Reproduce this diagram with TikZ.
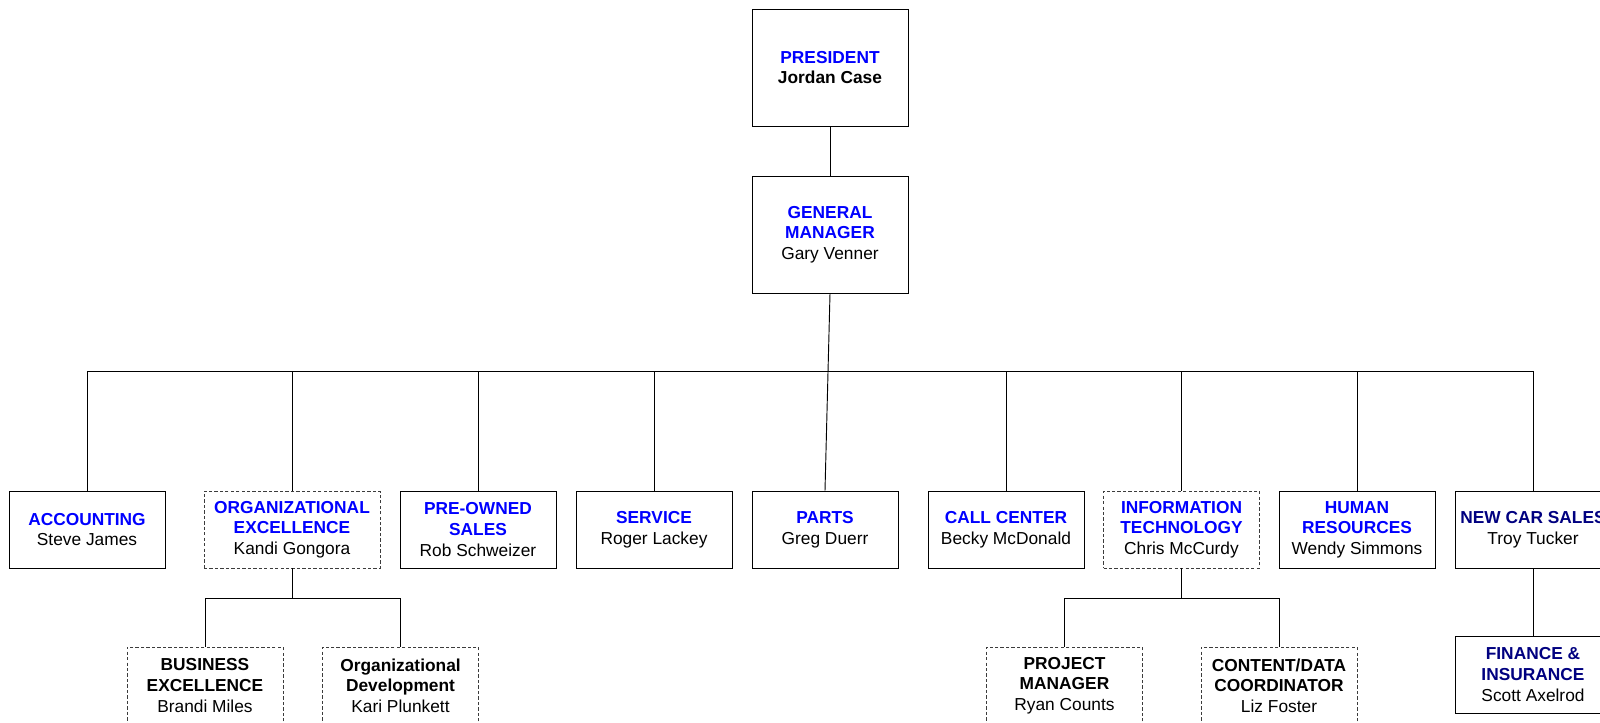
\documentclass[tikz,border=0pt]{standalone}
\usepackage{fontspec}
\setmainfont{Liberation Sans}
\definecolor{titleblue}{RGB}{0,0,255}
\definecolor{titlenavy}{RGB}{0,0,128}
\definecolor{dashgray}{RGB}{60,60,60}
\begin{document}
\begin{tikzpicture}[x=0.75pt,y=-0.75pt,
  every node/.style={font=\fontsize{13}{15.4}\selectfont},
  unit/.style={draw=black, line width=0.7pt, fill=white, inner sep=0pt,
    align=center, minimum width=117pt, minimum height=57.75pt},
  topunit/.style={unit, minimum height=87.75pt},
  dashedunit/.style={unit, draw=dashgray, dash pattern=on 2.5pt off 1.6pt},
  link/.style={draw=black, line width=0.7pt}]
\useasboundingbox (0,0) rectangle (1600,722);
\clip (0,0) rectangle (1600,722);

% executive level
\node[topunit] (pres) at (830,67.5)
  {\textbf{\textcolor{titleblue}{PRESIDENT}}\\\textbf{Jordan Case}};
\node[topunit] (gm) at (830,234.5)
  {\textbf{\textcolor{titleblue}{GENERAL}}\\\textbf{\textcolor{titleblue}{MANAGER}}\\Gary Venner};

% departments
\node[unit] (acc) at (87,529.5)
  {\textbf{\textcolor{titleblue}{ACCOUNTING}}\\Steve James};
\node[dashedunit, minimum width=132pt] (oe) at (292,529.5)
  {\textbf{\textcolor{titleblue}{ORGANIZATIONAL}}\\\textbf{\textcolor{titleblue}{EXCELLENCE}}\\Kandi Gongora};
\node[unit] (pre) at (478,529.5)
  {\textbf{\textcolor{titleblue}{PRE-OWNED}}\\\textbf{\textcolor{titleblue}{SALES}}\\Rob Schweizer};
\node[unit] (svc) at (654,529.5)
  {\textbf{\textcolor{titleblue}{SERVICE}}\\Roger Lackey};
\node[unit, minimum width=109.5pt] (parts) at (825,529.5)
  {\textbf{\textcolor{titleblue}{PARTS}}\\Greg Duerr};
\node[unit] (call) at (1006,529.5)
  {\textbf{\textcolor{titleblue}{CALL CENTER}}\\Becky McDonald};
\node[dashedunit] (it) at (1181.5,529.5)
  {\textbf{\textcolor{titleblue}{INFORMATION}}\\\textbf{\textcolor{titleblue}{TECHNOLOGY}}\\Chris McCurdy};
\node[unit] (hr) at (1357,529.5)
  {\textbf{\textcolor{titleblue}{HUMAN}}\\\textbf{\textcolor{titleblue}{RESOURCES}}\\Wendy Simmons};
\node[unit] (ncs) at (1533,529.5)
  {\textbf{\textcolor{titlenavy}{NEW CAR SALES}}\\Troy Tucker};

% third level
\node[dashedunit] (be) at (205,685.5)
  {\textbf{BUSINESS}\\\textbf{EXCELLENCE}\\Brandi Miles};
\node[dashedunit] (od) at (400.5,685.5)
  {\textbf{Organizational}\\\textbf{Development}\\Kari Plunkett};
\node[dashedunit] (pm) at (1064.5,685.5)
  {\textbf{PROJECT}\\\textbf{MANAGER}\\Ryan Counts};
\node[dashedunit] (cd) at (1279,685.5)
  {\textbf{CONTENT/DATA}\\\textbf{COORDINATOR}\\Liz Foster};
\node[unit] (fi) at (1533,674.5)
  {\textbf{\textcolor{titlenavy}{FINANCE \&}}\\\textbf{\textcolor{titlenavy}{INSURANCE}}\\Scott Axelrod};

% junction points
\coordinate (bus) at (830,371);
\path (oe.south) ++(0,30) coordinate (oej);
\path (it.south) ++(0,30) coordinate (itj);

% connectors
\draw[link] (pres.south) -- (gm.north);
\draw[link] (gm.south) -- (parts.north);
\foreach \n in {acc,oe,pre,svc,call,it,hr,ncs}
  \draw[link] (bus) -| (\n.north);
\draw[link] (oe.south) -- (oej);
\draw[link] (oej) -| (be.north);
\draw[link] (oej) -| (od.north);
\draw[link] (it.south) -- (itj);
\draw[link] (itj) -| (pm.north);
\draw[link] (itj) -| (cd.north);
\draw[link] (ncs.south) -- (fi.north);
\end{tikzpicture}
\end{document}
